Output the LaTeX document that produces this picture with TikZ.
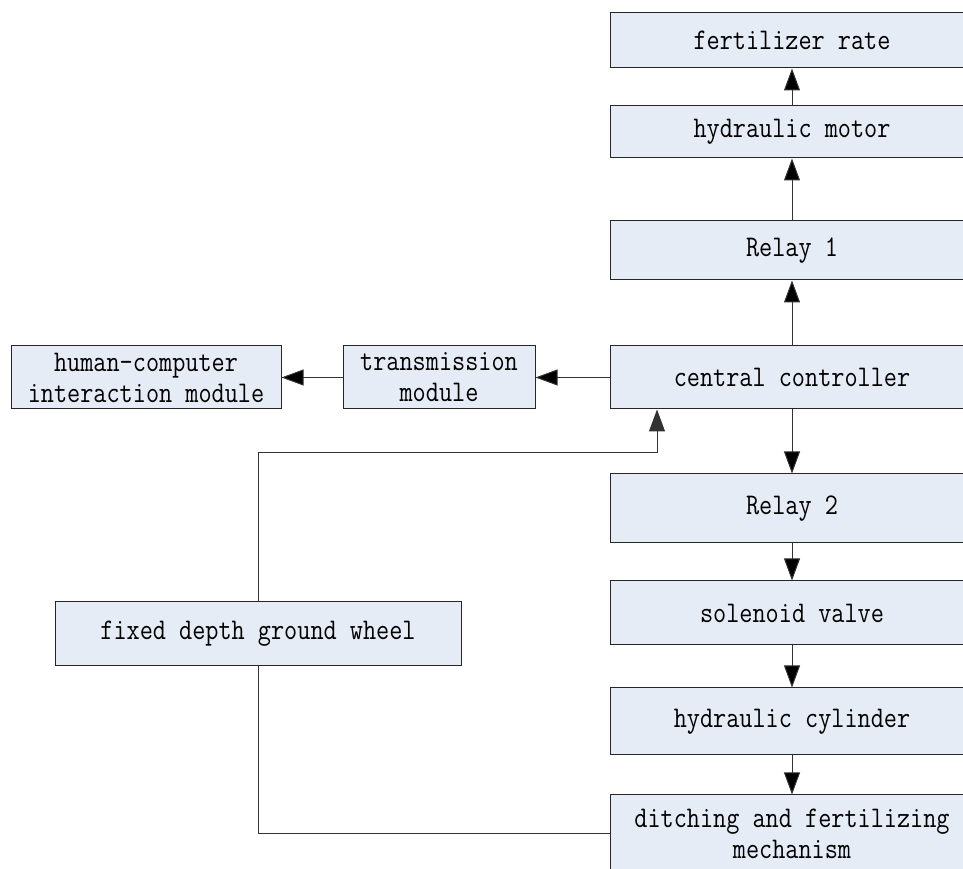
\documentclass[tikz,border=0pt]{standalone}
\usepackage{fontspec}
\newfontfamily\boxfont[FakeStretch=0.85]{Latin Modern Mono}
\usetikzlibrary{positioning,calc,arrows.meta}
\definecolor{boxfill}{RGB}{230,236,246}

\begin{document}
\begin{tikzpicture}[x=1pt,y=1pt]
    \tikzstyle{every node}=[rectangle,inner sep=0,font=\boxfont\fontsize{30}{31}\selectfont,align=center]
    \tikzstyle{block}=[draw=black!85,line width=1,fill=boxfill]
    \tikzstyle{col}=[block,minimum width=364]
    \tikzstyle{link}=[draw=black!80,line width=1]
    \useasboundingbox (0,0) rectangle (963,869);
    \clip (0,0) rectangle (963,869);
    {
        % right column
        \node[col,minimum height=55] (fert) at (792,828.5) {fertilizer rate};
        \node[col,minimum height=52] (motor) at (792,737) {hydraulic motor};
        \node[col,minimum height=59] (relayA) at (792,618.5) {Relay 1};
        \node[col,minimum height=63] (ctrl) at (792,491.5) {central controller};
        \node[col,minimum height=69] (relayB) at (792,360.5) {Relay 2};
        \node[col,minimum height=64] (valve) at (792,256) {solenoid valve};
        \node[col,minimum height=67] (cyl) at (792,147.5) {hydraulic cylinder};
        \node[col,minimum height=78] (ditch) at (792,35) {ditching and fertilizing\\mechanism};

        % left side
        \node[block,minimum width=192,minimum height=63] (trans) at (439,491.5) {transmission\\module};
        \node[block,minimum width=270,minimum height=63] (hci) at (146,491.5) {human-computer\\interaction module};
        \node[block,minimum width=406,minimum height=64] (wheel) at (258,235) {fixed depth ground wheel};

        \coordinate (bend) at (657,416);

        \path[link,->,>={Triangle[length=22,width=16]}]
            (relayA) edge (motor)
            (motor) edge (fert)
            (ctrl) edge (relayA)
            (ctrl) edge (relayB)
            (relayB) edge (valve)
            (valve) edge (cyl)
            (cyl) edge (ditch)
            (ctrl) edge (trans)
            (trans) edge (hci);

        \draw[link,->,>={Triangle[length=22,width=16]}]
            (wheel.north) |- (bend) -- (bend |- ctrl.south);
        \draw[link] (wheel.south) |- (ditch.west);
    }
\end{tikzpicture}
\end{document}
